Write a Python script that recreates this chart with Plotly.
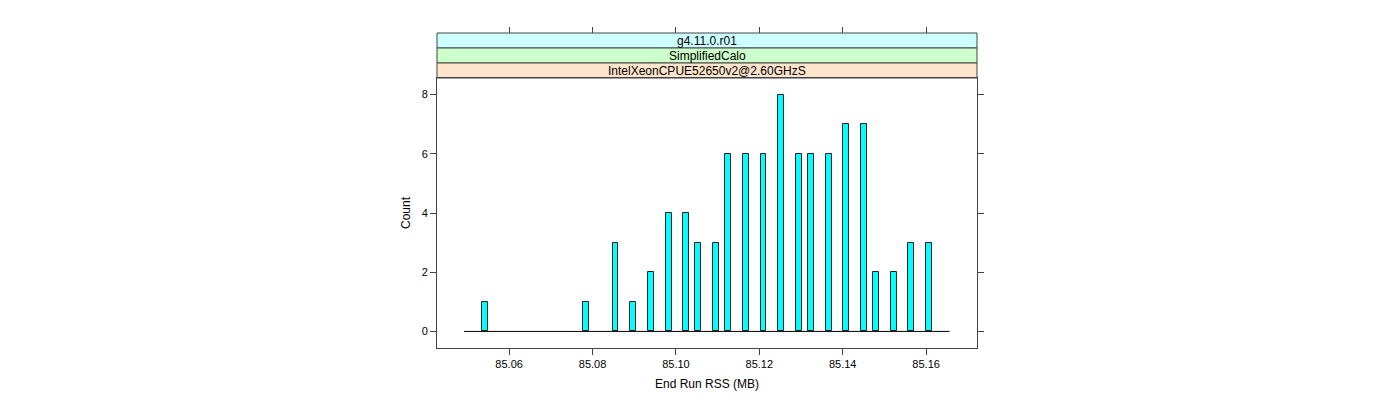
import plotly.graph_objects as go

# ---- data ----
rss_mb = [85.0543, 85.0784, 85.0855, 85.0897, 85.0940, 85.0983, 85.1025, 85.1053,
          85.1096, 85.1124, 85.1167, 85.1210, 85.1252, 85.1295, 85.1324, 85.1366,
          85.1408, 85.1451, 85.1479, 85.1522, 85.1564, 85.1606]
counts = [1, 1, 3, 1, 2, 4, 4, 3, 3, 6, 6, 6, 8, 6, 6, 6, 7, 7, 2, 2, 3, 3]
bin_width = 0.00142
hist_span = [85.0492, 85.1656]        # extent of histogram bins (zero bins drawn flat)
x_ticks = [85.06, 85.08, 85.10, 85.12, 85.14, 85.16]
y_ticks = [0, 2, 4, 6, 8]
x_range = [85.0427, 85.1722]
y_range = [-0.56, 8.56]
strips = ["g4.11.0.r01", "SimplifiedCalo", "IntelXeonCPUE52650v2@2.60GHzS"]
strip_colors = ["#CCFFFF", "#CCFFCC", "#FFE5CC"]

FONT = "Liberation Sans, Arial, Helvetica, sans-serif"
AX = "#444444"

fig = go.Figure()
fig.add_trace(go.Scatter(x=hist_span, y=[0, 0], mode="lines",
                         line=dict(color="#000000", width=1),
                         xaxis="x2", yaxis="y", hoverinfo="skip", showlegend=False))
fig.add_trace(go.Bar(x=rss_mb, y=counts, width=[bin_width] * len(rss_mb),
                     marker=dict(color="#00FFFF", line=dict(color="#222222", width=1)),
                     showlegend=False))

plot_h = 400 - 33 - 52
panel_top = 270 / plot_h
strip_h = (1 - panel_top) / 3

shapes = []
annotations = []
for i, (label, col) in enumerate(zip(strips, strip_colors)):
    y1 = 1 - i * strip_h
    y0 = y1 - strip_h
    shapes.append(dict(type="rect", xref="paper", yref="paper", x0=0, x1=1, y0=y0, y1=y1,
                       fillcolor=col, line=dict(color=AX, width=1), layer="below"))
    annotations.append(dict(text=label, xref="paper", yref="paper", x=0.5, y=(y0 + y1) / 2,
                            showarrow=False, font=dict(family=FONT, size=12, color="#000000"),
                            xanchor="center", yanchor="middle"))

fig.update_layout(
    width=1400, height=400,
    margin=dict(l=437, r=423, t=33, b=52),
    paper_bgcolor="white", plot_bgcolor="white",
    bargap=0,
    shapes=shapes, annotations=annotations,
    font=dict(family=FONT, size=11, color="#000000"),
    xaxis=dict(range=x_range, tickvals=x_ticks, tickformat=".2f",
               ticks="outside", ticklen=6, tickcolor=AX, showgrid=False, zeroline=False,
               showline=True, linecolor=AX, linewidth=1, mirror=True,
               tickfont=dict(family=FONT, size=11),
               title=dict(text="End Run RSS (MB)", font=dict(family=FONT, size=12), standoff=10)),
    xaxis2=dict(range=x_range, tickvals=x_ticks, overlaying="x", anchor="free", position=1.0,
                side="top", ticks="outside", ticklen=6, tickcolor=AX, showticklabels=False,
                showgrid=False, zeroline=False, showline=False),
    yaxis=dict(range=y_range, domain=[0, panel_top], tickvals=y_ticks,
               ticks="outside", ticklen=6, tickcolor=AX, showgrid=False, zeroline=False,
               showline=True, linecolor=AX, linewidth=1, mirror="ticks",
               tickfont=dict(family=FONT, size=11),
               title=dict(text="Count", font=dict(family=FONT, size=12), standoff=8)),
)

fig.write_html("out.html")
